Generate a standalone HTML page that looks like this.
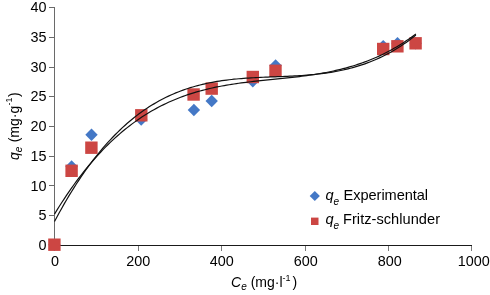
<!DOCTYPE html>
<html><head><meta charset="utf-8"><style>
html,body{margin:0;padding:0;background:#fff;}
body{width:490px;height:295px;overflow:hidden;position:relative;}
svg{position:absolute;left:0;top:0;will-change:transform;}
text{font-family:"Liberation Sans",sans-serif;fill:#000;}
</style></head><body>
<svg width="490" height="295" viewBox="0 0 490 295">

<g shape-rendering="crispEdges">
<rect x="54" y="7" width="1" height="239" fill="#6a6a6a"/>
<rect x="54" y="245" width="418" height="1" fill="#1a1a1a"/>
<rect x="49" y="7" width="5" height="1" fill="#6a6a6a"/>
<rect x="49" y="37" width="5" height="1" fill="#6a6a6a"/>
<rect x="49" y="67" width="5" height="1" fill="#6a6a6a"/>
<rect x="49" y="96" width="5" height="1" fill="#6a6a6a"/>
<rect x="49" y="126" width="5" height="1" fill="#6a6a6a"/>
<rect x="49" y="156" width="5" height="1" fill="#6a6a6a"/>
<rect x="49" y="185" width="5" height="1" fill="#6a6a6a"/>
<rect x="49" y="215" width="5" height="1" fill="#6a6a6a"/>
<rect x="54" y="246" width="1" height="5" fill="#7a7a7a"/>
<rect x="138" y="246" width="1" height="5" fill="#7a7a7a"/>
<rect x="221" y="246" width="1" height="5" fill="#7a7a7a"/>
<rect x="305" y="246" width="1" height="5" fill="#7a7a7a"/>
<rect x="388" y="246" width="1" height="5" fill="#7a7a7a"/>
<rect x="471" y="246" width="1" height="5" fill="#7a7a7a"/>
</g>
<text x="46.6" y="12.20" font-size="14.4" text-anchor="end">40</text>
<text x="46.6" y="41.95" font-size="14.4" text-anchor="end">35</text>
<text x="46.6" y="71.70" font-size="14.4" text-anchor="end">30</text>
<text x="46.6" y="101.45" font-size="14.4" text-anchor="end">25</text>
<text x="46.6" y="131.20" font-size="14.4" text-anchor="end">20</text>
<text x="46.6" y="160.95" font-size="14.4" text-anchor="end">15</text>
<text x="46.6" y="190.70" font-size="14.4" text-anchor="end">10</text>
<text x="46.6" y="220.45" font-size="14.4" text-anchor="end">5</text>
<text x="46.6" y="250.20" font-size="14.4" text-anchor="end">0</text>
<text x="54.95" y="265.6" font-size="14.4" text-anchor="middle">0</text>
<text x="138.20" y="265.6" font-size="14.4" text-anchor="middle">200</text>
<text x="221.80" y="265.6" font-size="14.4" text-anchor="middle">400</text>
<text x="305.70" y="265.6" font-size="14.4" text-anchor="middle">600</text>
<text x="389.70" y="265.6" font-size="14.4" text-anchor="middle">800</text>
<text x="473.70" y="265.6" font-size="14.4" text-anchor="middle">1000</text>
<path d="M71.6 160.3 L77.8 166.5 L71.6 172.7 L65.39999999999999 166.5 Z" fill="#4478C6"/>
<path d="M91.5 128.60000000000002 L97.7 134.8 L91.5 141.0 L85.3 134.8 Z" fill="#4478C6"/>
<path d="M141.2 113.39999999999999 L147.39999999999998 119.6 L141.2 125.8 L135.0 119.6 Z" fill="#4478C6"/>
<path d="M193.9 103.8 L200.1 110 L193.9 116.2 L187.70000000000002 110 Z" fill="#4478C6"/>
<path d="M211.7 94.8 L217.89999999999998 101.0 L211.7 107.2 L205.5 101.0 Z" fill="#4478C6"/>
<path d="M252.8 75.0 L259.0 81.2 L252.8 87.4 L246.60000000000002 81.2 Z" fill="#4478C6"/>
<path d="M275.6 59.3 L281.8 65.5 L275.6 71.7 L269.40000000000003 65.5 Z" fill="#4478C6"/>
<path d="M383.2 39.9 L389.4 46.1 L383.2 52.300000000000004 L377.0 46.1 Z" fill="#4478C6"/>
<path d="M397.5 37.0 L403.7 43.2 L397.5 49.400000000000006 L391.3 43.2 Z" fill="#4478C6"/>
<path d="M415.6 37.099999999999994 L421.8 43.3 L415.6 49.5 L409.40000000000003 43.3 Z" fill="#4478C6"/>
<path d="M54.4 238.5 L60.6 244.7 L54.4 250.89999999999998 L48.199999999999996 244.7 Z" fill="#4478C6"/>
<rect x="48.20" y="238.50" width="12.4" height="12.4" fill="#CC4643"/>
<rect x="65.40" y="164.60" width="12.4" height="12.4" fill="#CC4643"/>
<rect x="85.20" y="141.50" width="12.4" height="12.4" fill="#CC4643"/>
<rect x="135.10" y="109.10" width="12.4" height="12.4" fill="#CC4643"/>
<rect x="187.40" y="88.30" width="12.4" height="12.4" fill="#CC4643"/>
<rect x="205.50" y="82.40" width="12.4" height="12.4" fill="#CC4643"/>
<rect x="246.60" y="70.80" width="12.4" height="12.4" fill="#CC4643"/>
<rect x="269.30" y="64.60" width="12.4" height="12.4" fill="#CC4643"/>
<rect x="377.00" y="42.80" width="12.4" height="12.4" fill="#CC4643"/>
<rect x="391.20" y="40.10" width="12.4" height="12.4" fill="#CC4643"/>
<rect x="409.40" y="37.10" width="12.4" height="12.4" fill="#CC4643"/>
<polyline points="54.50,214.11 56.93,210.17 59.35,206.30 61.78,202.51 64.20,198.81 66.63,195.18 69.05,191.63 71.48,188.16 73.90,184.77 76.33,181.45 78.76,178.21 81.18,175.04 83.61,171.94 86.03,168.91 88.46,165.96 90.88,163.08 93.31,160.26 95.73,157.52 98.16,154.84 100.58,152.22 103.01,149.68 105.44,147.20 107.86,144.78 110.29,142.42 112.71,140.13 115.14,137.89 117.56,135.72 119.99,133.61 122.41,131.55 124.84,129.55 127.27,127.61 129.69,125.72 132.12,123.89 134.54,122.11 136.97,120.39 139.39,118.71 141.82,117.09 144.24,115.52 146.67,113.99 149.09,112.52 151.52,111.09 153.95,109.70 156.37,108.37 158.80,107.07 161.22,105.82 163.65,104.62 166.07,103.45 168.50,102.33 170.92,101.24 173.35,100.19 175.78,99.19 178.20,98.21 180.63,97.28 183.05,96.38 185.48,95.51 187.90,94.68 190.33,93.88 192.75,93.11 195.18,92.38 197.60,91.67 200.03,90.99 202.46,90.34 204.88,89.71 207.31,89.11 209.73,88.54 212.16,87.99 214.58,87.46 217.01,86.96 219.43,86.48 221.86,86.01 224.29,85.57 226.71,85.15 229.14,84.74 231.56,84.35 233.99,83.98 236.41,83.62 238.84,83.28 241.26,82.95 243.69,82.63 246.11,82.32 248.54,82.02 250.97,81.73 253.39,81.45 255.82,81.18 258.24,80.92 260.67,80.66 263.09,80.40 265.52,80.15 267.94,79.90 270.37,79.66 272.80,79.41 275.22,79.17 277.65,78.92 280.07,78.68 282.50,78.43 284.92,78.18 287.35,77.92 289.77,77.66 292.20,77.39 294.62,77.11 297.05,76.83 299.48,76.54 301.90,76.24 304.33,75.92 306.75,75.60 309.18,75.26 311.60,74.91 314.03,74.54 316.45,74.16 318.88,73.77 321.31,73.35 323.73,72.92 326.16,72.47 328.58,72.00 331.01,71.50 333.43,70.99 335.86,70.45 338.28,69.89 340.71,69.31 343.13,68.70 345.56,68.06 347.99,67.39 350.41,66.70 352.84,65.98 355.26,65.23 357.69,64.44 360.11,63.63 362.54,62.78 364.96,61.90 367.39,60.98 369.82,60.03 372.24,59.04 374.67,58.02 377.09,56.95 379.52,55.85 381.94,54.71 384.37,53.52 386.79,52.29 389.22,51.02 391.64,49.71 394.07,48.35 396.50,46.95 398.92,45.49 401.35,44.00 403.77,42.45 406.20,40.85 408.62,39.20 411.05,37.51 413.47,35.76 415.90,33.95" fill="none" stroke="#111" stroke-width="1.2"/>
<polyline points="54.50,221.53 56.93,216.98 59.35,212.52 61.78,208.17 64.20,203.91 66.63,199.74 69.05,195.67 71.48,191.70 73.90,187.81 76.33,184.02 78.76,180.31 81.18,176.69 83.61,173.16 86.03,169.72 88.46,166.36 90.88,163.09 93.31,159.90 95.73,156.79 98.16,153.76 100.58,150.81 103.01,147.94 105.44,145.14 107.86,142.43 110.29,139.79 112.71,137.22 115.14,134.73 117.56,132.30 119.99,129.95 122.41,127.67 124.84,125.46 127.27,123.31 129.69,121.23 132.12,119.22 134.54,117.27 136.97,115.39 139.39,113.56 141.82,111.80 144.24,110.10 146.67,108.45 149.09,106.87 151.52,105.34 153.95,103.87 156.37,102.45 158.80,101.08 161.22,99.77 163.65,98.50 166.07,97.29 168.50,96.13 170.92,95.01 173.35,93.94 175.78,92.92 178.20,91.94 180.63,91.01 183.05,90.11 185.48,89.26 187.90,88.45 190.33,87.68 192.75,86.95 195.18,86.25 197.60,85.59 200.03,84.96 202.46,84.37 204.88,83.81 207.31,83.28 209.73,82.78 212.16,82.31 214.58,81.87 217.01,81.46 219.43,81.07 221.86,80.70 224.29,80.36 226.71,80.05 229.14,79.75 231.56,79.48 233.99,79.22 236.41,78.98 238.84,78.76 241.26,78.56 243.69,78.37 246.11,78.20 248.54,78.03 250.97,77.88 253.39,77.74 255.82,77.61 258.24,77.49 260.67,77.38 263.09,77.27 265.52,77.16 267.94,77.06 270.37,76.97 272.80,76.87 275.22,76.78 277.65,76.68 280.07,76.59 282.50,76.49 284.92,76.39 287.35,76.28 289.77,76.17 292.20,76.05 294.62,75.92 297.05,75.79 299.48,75.64 301.90,75.48 304.33,75.31 306.75,75.13 309.18,74.93 311.60,74.71 314.03,74.48 316.45,74.23 318.88,73.97 321.31,73.68 323.73,73.37 326.16,73.04 328.58,72.68 331.01,72.30 333.43,71.90 335.86,71.47 338.28,71.01 340.71,70.52 343.13,70.00 345.56,69.45 347.99,68.87 350.41,68.25 352.84,67.61 355.26,66.92 357.69,66.20 360.11,65.44 362.54,64.64 364.96,63.81 367.39,62.93 369.82,62.01 372.24,61.05 374.67,60.04 377.09,58.99 379.52,57.89 381.94,56.74 384.37,55.54 386.79,54.30 389.22,53.00 391.64,51.66 394.07,50.26 396.50,48.80 398.92,47.29 401.35,45.73 403.77,44.10 406.20,42.42 408.62,40.68 411.05,38.88 413.47,37.01 415.90,35.09" fill="none" stroke="#111" stroke-width="1.2"/>
<path d="M314.8 190.9 L319.9 196 L314.8 201.1 L309.7 196 Z" fill="#4478C6"/>
<rect x="311" y="217.6" width="7.5" height="7.4" fill="#CC4643"/>
<text x="325.6" y="199.9" font-size="14.6" font-style="italic">q</text>
<text x="333.6" y="205.0" font-size="10" font-style="italic">e</text>
<text x="343.6" y="199.9" font-size="14.6" textLength="84.5" lengthAdjust="spacing">Experimental</text>
<text x="325.6" y="223.9" font-size="14.6" font-style="italic">q</text>
<text x="333.6" y="229.0" font-size="10" font-style="italic">e</text>
<text x="343.0" y="223.9" font-size="14.6" textLength="97" lengthAdjust="spacing">Fritz-schlunder</text>
<text x="231" y="286.8" font-size="14"><tspan font-style="italic">C</tspan><tspan font-style="italic" font-size="10" dy="3">e</tspan><tspan dy="-3" dx="4">(mg·l</tspan><tspan font-size="9" dy="-6">-1</tspan><tspan dy="6" dx="1.8">)</tspan></text>
<text transform="translate(19.3,160) rotate(-90)" x="0" y="0" font-size="14"><tspan font-style="italic">q</tspan><tspan font-style="italic" font-size="10" dy="3">e</tspan><tspan dy="-3.8" dx="4.3">(mg·g</tspan><tspan font-size="9" dy="-6.5" dx="0.3">-1</tspan><tspan dy="6.5" dx="0.5">)</tspan></text>
</svg></body></html>
